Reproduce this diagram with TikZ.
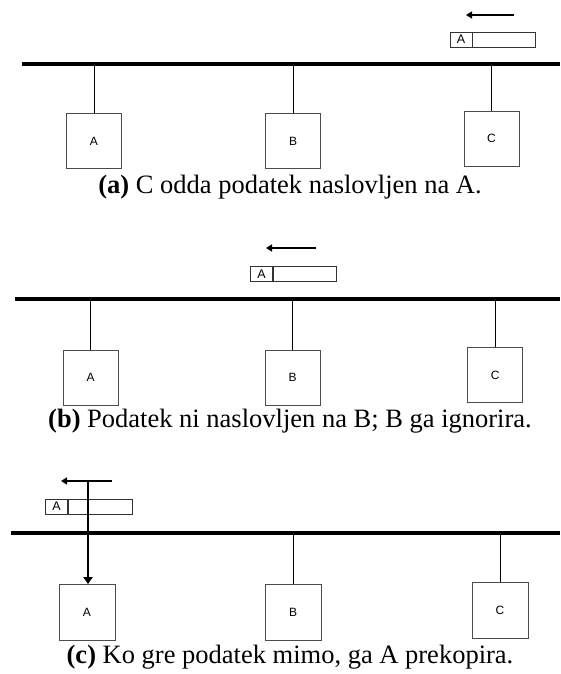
\documentclass[tikz,border=0pt]{standalone}
\usepackage{fontspec}
\setmainfont{Liberation Serif}
\newfontfamily\labelfont{Liberation Sans}
\usetikzlibrary{arrows.meta}
\begin{document}
\begin{tikzpicture}[x=1pt,y=-1pt,
  bus/.style={line width=4pt},
  drop/.style={line width=1pt},
  station/.style={draw=black!70, line width=0.9pt, minimum width=55pt,
    minimum height=55pt, inner sep=0pt, font=\labelfont\fontsize{12}{14}\selectfont},
  hdr/.style={draw=black!80, line width=0.9pt, minimum width=22pt,
    minimum height=15pt, inner sep=0pt, font=\labelfont\fontsize{12.5}{14}\selectfont},
  body/.style={draw=black!80, line width=0.9pt, minimum width=63pt,
    minimum height=15pt, inner sep=0pt, anchor=west},
  motion/.style={line width=1.2pt, -{Triangle[length=6pt,width=7pt]}},
  copyarrow/.style={line width=1.8pt, -{Triangle[length=7pt,width=9pt]}},
  caption/.style={anchor=base, font=\fontsize{26.5}{31}\selectfont}]
\useasboundingbox (0,0) rectangle (560,674);

% ---------- (a) C sends a frame addressed to A ----------
\coordinate (aL) at (22,64.5);
\coordinate (aR) at (560,64.5);
\draw[bus] (aL) -- (aR);
\node[station] (aA) at (94,141) {A};
\node[station] (aB) at (293,141) {B};
\node[station] (aC) at (491.5,138.5) {C};
\foreach \n in {aA,aB,aC} \draw[drop] (\n.north |- aL) -- (\n.north);
\node[hdr] (aH) at (461,39.5) {A};
\node[body] (aD) at (aH.east) {};
\coordinate (aS) at (514,15);
\coordinate (aE) at (466,15);
\draw[motion] (aS) -- (aE);
\node[caption] (capa) at (290,193) {\textbf{(a)} C odda podatek naslovljen na A.};

% ---------- (b) the frame passes B ----------
\coordinate (bL) at (15,299);
\coordinate (bR) at (560,299);
\draw[bus] (bL) -- (bR);
\node[station] (bA) at (90.7,377.5) {A};
\node[station] (bB) at (292.7,377.5) {B};
\node[station] (bC) at (495.2,375) {C};
\foreach \n in {bA,bB,bC} \draw[drop] (\n.north |- bL) -- (\n.north);
\node[hdr] (bH) at (261.5,274) {A};
\node[body] (bD) at (bH.east) {};
\coordinate (bS) at (316,248);
\coordinate (bE) at (266,248);
\draw[motion] (bS) -- (bE);
\node[caption] (capb) at (290,427) {\textbf{(b)} Podatek ni naslovljen na B; B ga ignorira.};

% ---------- (c) A copies the frame ----------
\coordinate (cL) at (11,533);
\coordinate (cR) at (560,533);
\draw[bus] (cL) -- (cR);
\node[station, minimum size=56pt] (cA) at (87,612.5) {A};
\node[station, minimum size=56pt] (cB) at (293,612) {B};
\node[station, minimum size=56pt] (cC) at (500,610) {C};
\foreach \n in {cB,cC} \draw[drop] (\n.north |- cL) -- (\n.north);
\node[hdr] (cH) at (56.5,506.5) {A};
\node[body, minimum width=64pt] (cD) at (cH.east) {};
\coordinate (cS) at (112,481);
\coordinate (cE) at (61,481);
\draw[motion] (cS) -- (cE);
\coordinate (cT) at (88,481);
\draw[copyarrow] (cT) -- (cT |- cA.north);
\node[caption] (capc) at (290,663) {\textbf{(c)} Ko gre podatek mimo, ga A prekopira.};
\end{tikzpicture}
\end{document}
